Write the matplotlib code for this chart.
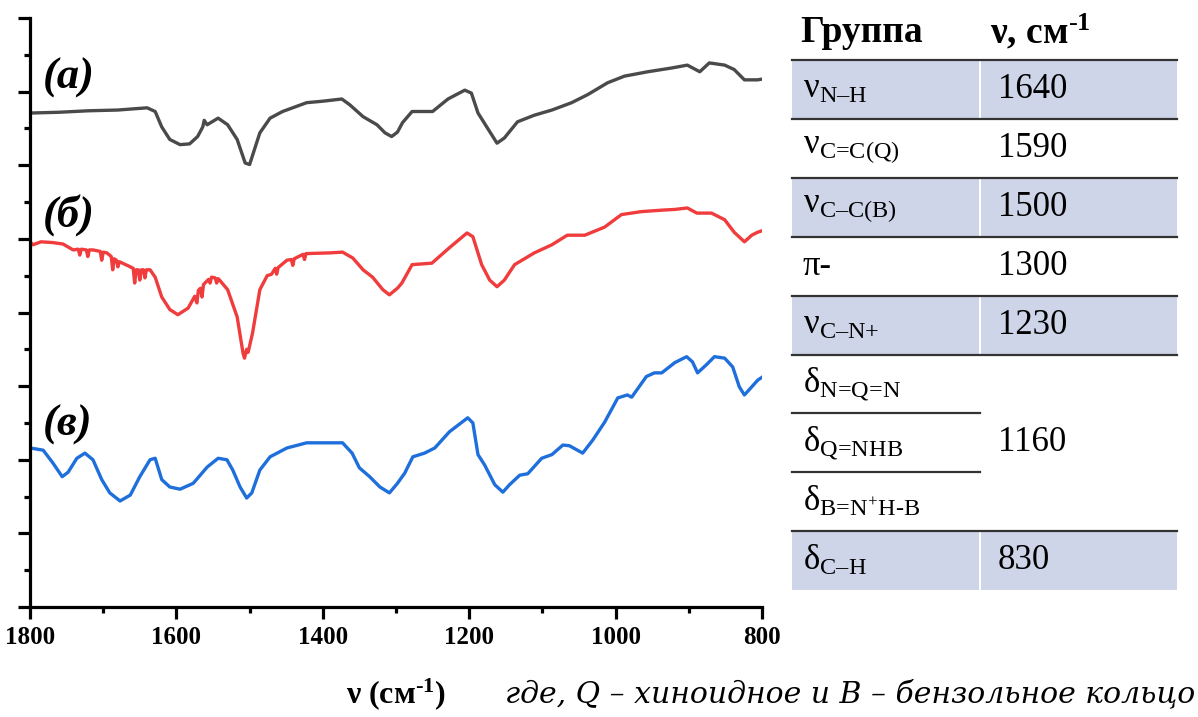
import numpy as np
import matplotlib.pyplot as plt
from matplotlib.ticker import MultipleLocator

plt.rcParams['font.family'] = ['Liberation Serif', 'DejaVu Serif']
plt.rcParams['mathtext.fontset'] = 'custom'
plt.rcParams['mathtext.rm'] = 'Liberation Serif'
plt.rcParams['mathtext.it'] = 'Liberation Serif:italic'
plt.rcParams['mathtext.bf'] = 'Liberation Serif:bold'

# spectrum (a) - gray
wn_a = [1800, 1796, 1760, 1720, 1680, 1640, 1629, 1620, 1609, 1595, 1582, 1571,
        1564, 1562, 1558, 1543, 1530, 1517, 1506, 1500, 1486, 1472, 1455, 1422,
        1400, 1374, 1363, 1345, 1326, 1315, 1306, 1298, 1291, 1278, 1250, 1229,
        1206, 1197, 1188, 1176, 1162, 1152, 1134, 1111, 1087, 1060, 1038, 1011,
        988, 956, 924, 902, 885, 872, 851, 838, 824, 806, 800]
tr_a = [6.71, 6.71, 6.72, 6.74, 6.75, 6.78, 6.73, 6.52, 6.35, 6.28, 6.29, 6.39,
        6.52, 6.61, 6.55, 6.64, 6.55, 6.35, 6.03, 6.01, 6.44, 6.64, 6.73, 6.85,
        6.87, 6.90, 6.82, 6.66, 6.55, 6.44, 6.39, 6.45, 6.58, 6.73, 6.73, 6.90,
        7.02, 6.98, 6.71, 6.52, 6.30, 6.37, 6.59, 6.68, 6.75, 6.85, 6.96, 7.12,
        7.21, 7.27, 7.32, 7.36, 7.27, 7.39, 7.36, 7.30, 7.16, 7.16, 7.17]

# spectrum (б) - red, noisy below 1400
wn_b = [1800, 1796, 1785, 1769, 1755, 1741, 1734, 1732, 1730, 1723, 1721, 1719,
        1714, 1704, 1702, 1700, 1695, 1689, 1687, 1685, 1682, 1680, 1678, 1665,
        1659, 1657, 1655, 1652, 1650, 1648, 1645, 1643, 1641, 1636, 1629, 1620,
        1609, 1598, 1584, 1575, 1572, 1570, 1567, 1565, 1563, 1556, 1554, 1552,
        1547, 1545, 1543, 1541, 1530, 1517, 1509, 1507, 1504, 1502, 1496, 1486,
        1476, 1470, 1465, 1463, 1461, 1449, 1443, 1441, 1439, 1427, 1425, 1423,
        1390, 1373, 1359, 1345, 1332, 1318, 1309, 1298, 1292, 1278, 1251, 1227,
        1203, 1195, 1183, 1172, 1162, 1152, 1138, 1111, 1087, 1066, 1042, 1015,
        992, 965, 937, 919, 902, 889, 869, 851, 838, 824, 814, 806, 800]
tr_b = [4.96, 4.92, 4.96, 4.95, 4.93, 4.85, 4.86, 4.78, 4.86, 4.85, 4.76, 4.85,
        4.85, 4.83, 4.71, 4.82, 4.81, 4.76, 4.58, 4.73, 4.71, 4.62, 4.69, 4.63,
        4.60, 4.40, 4.58, 4.58, 4.44, 4.58, 4.58, 4.47, 4.58, 4.58, 4.48, 4.21,
        4.04, 3.97, 4.06, 4.22, 4.13, 4.30, 4.33, 4.21, 4.38, 4.45, 4.40, 4.48,
        4.47, 4.40, 4.46, 4.44, 4.31, 3.94, 3.45, 3.38, 3.50, 3.46, 3.72, 4.31,
        4.50, 4.52, 4.60, 4.52, 4.61, 4.71, 4.72, 4.64, 4.73, 4.79, 4.72, 4.80,
        4.81, 4.82, 4.74, 4.58, 4.48, 4.31, 4.24, 4.33, 4.40, 4.65, 4.67, 4.88,
        5.08, 5.03, 4.65, 4.44, 4.35, 4.44, 4.65, 4.81, 4.92, 5.05, 5.05, 5.16,
        5.33, 5.37, 5.39, 5.40, 5.42, 5.35, 5.35, 5.26, 5.09, 4.96, 5.05, 5.09,
        5.11]

# spectrum (в) - blue
wn_c = [1800, 1782, 1769, 1756, 1748, 1736, 1725, 1714, 1702, 1691, 1677, 1663,
        1650, 1636, 1629, 1620, 1609, 1595, 1577, 1558, 1543, 1531, 1523, 1513,
        1504, 1497, 1486, 1472, 1449, 1422, 1400, 1373, 1360, 1350, 1336, 1322,
        1309, 1298, 1288, 1277, 1261, 1247, 1227, 1202, 1195, 1188, 1179, 1165,
        1154, 1145, 1131, 1120, 1101, 1087, 1072, 1063, 1045, 1031, 1015, 997,
        984, 978, 958, 947, 937, 919, 903, 895, 888, 876, 865, 851, 840, 831,
        824, 814, 806, 800]
tr_c = [2.16, 2.13, 1.96, 1.77, 1.83, 2.02, 2.09, 2.00, 1.73, 1.55, 1.44, 1.52,
        1.77, 2.00, 2.02, 1.73, 1.63, 1.60, 1.68, 1.90, 2.02, 2.00, 1.86, 1.63,
        1.48, 1.55, 1.86, 2.04, 2.16, 2.23, 2.23, 2.23, 2.09, 1.89, 1.77, 1.63,
        1.55, 1.68, 1.82, 2.04, 2.09, 2.16, 2.38, 2.57, 2.50, 2.07, 1.93, 1.66,
        1.56, 1.66, 1.79, 1.81, 2.02, 2.07, 2.20, 2.19, 2.09, 2.27, 2.51, 2.84,
        2.88, 2.85, 3.13, 3.18, 3.18, 3.32, 3.40, 3.33, 3.18, 3.29, 3.40, 3.38,
        3.26, 2.99, 2.88, 2.99, 3.08, 3.12]

spectra = [(wn_a, tr_a, '#4a4a4a', '(а)', 7.19),
           (wn_b, tr_b, '#f03c3c', '(б)', 5.33),
           (wn_c, tr_c, '#1e6fdc', '(в)', 2.48)]

# assignment table
groups = [[r'$\mathrm{ν}_{\text{N–H}}$'],
          [r'$\mathrm{ν}_{\text{C=C(Q)}}$'],
          [r'$\mathrm{ν}_{\text{C–C(B)}}$'],
          ['π-'],
          [r'$\mathrm{ν}_{\text{C–N+}}$'],
          [r'$\mathrm{δ}_{\text{N=Q=N}}$', r'$\mathrm{δ}_{\text{Q=NHB}}$',
           r'$\mathrm{δ}_{\text{B=N}^{+}\text{H-B}}$'],
          [r'$\mathrm{δ}_{\text{C–H}}$']]
bands = ['1640', '1590', '1500', '1300', '1230', '1160', '830']
shaded = [True, False, True, False, True, False, True]

W, H = 1198, 717
fig = plt.figure(figsize=(W / 100, H / 100), dpi=100)
ax = fig.add_axes([30 / W, 1 - 607 / H, 732 / W, 589 / H])

for wn, tr, col, lab, ly in spectra:
    ax.plot(wn, tr, color=col, lw=2.4, solid_joinstyle='round')
    ax.text(1782, ly, lab, fontsize=32, fontweight='bold', fontstyle='italic',
            va='center', ha='left')

ax.set_xlim(1800, 800)
ax.set_ylim(0, 8)
ax.xaxis.set_major_locator(MultipleLocator(200))
ax.xaxis.set_minor_locator(MultipleLocator(100))
ax.yaxis.set_major_locator(MultipleLocator(1))
ax.yaxis.set_minor_locator(MultipleLocator(0.5))
ax.set_yticklabels([])
for s in ['top', 'right']:
    ax.spines[s].set_visible(False)
for s in ['left', 'bottom']:
    ax.spines[s].set_linewidth(2.3)
ax.tick_params(which='major', length=8.5, width=2.3, direction='out',
               labelsize=18, pad=5)
ax.tick_params(which='minor', length=4.3, width=2.3, direction='out')
for t in ax.get_xticklabels():
    t.set_fontweight('bold')
ax.set_xlabel(r'ν (см$^{\text{-}\mathbf{1}}$)', fontsize=23, fontweight='bold',
              labelpad=20)

fig.text(1195 / W, 1 - 693 / H, 'где, Q – хиноидное и B – бензольное кольцо',
         fontsize=21.5, fontstyle='italic', family='DejaVu Serif',
         ha='right', va='center')

# table drawn on a figure-wide overlay
tab = fig.add_axes([0, 0, 1, 1], facecolor='none')
tab.set_xlim(0, W)
tab.set_ylim(H, 0)
tab.axis('off')

x0, xs, x1 = 792, 980, 1177
top, row_h = 60, 58.9
tab.text(800, 32, 'Группа', fontsize=27, fontweight='bold', va='center')
tab.text(990, 32, r'ν, см$^{\text{-}\mathbf{1}}$', fontsize=27,
         fontweight='bold', va='center')

y = top
for labs, val, sh in zip(groups, bands, shaded):
    h = row_h * len(labs)
    if sh:
        tab.fill_between([x0, xs - 1], y, y + h, color='#cfd5e9', lw=0)
        tab.fill_between([xs + 1, x1], y, y + h, color='#cfd5e9', lw=0)
    tab.plot([x0, x1], [y, y], color='#333333', lw=1.6)
    for i, lab in enumerate(labs):
        yc = y + row_h * (i + 0.5)
        tab.text(803, yc, lab, fontsize=25, va='center', ha='left')
        if i > 0:
            tab.plot([x0, xs], [y + row_h * i] * 2, color='#333333', lw=1.6)
    tab.text(998, y + h / 2, val, fontsize=25, va='center', ha='left')
    y += h

plt.savefig('out.png', dpi=100)
